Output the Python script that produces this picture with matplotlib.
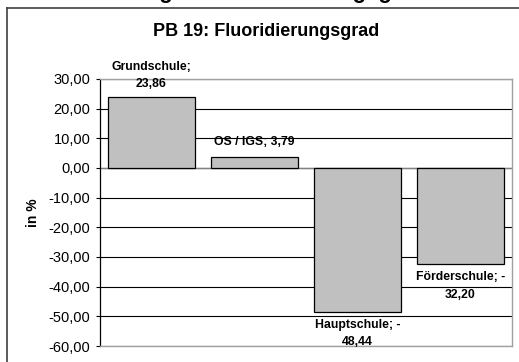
import matplotlib
matplotlib.use("Agg")
import matplotlib.pyplot as plt
from matplotlib.lines import Line2D

plt.rcParams['font.family'] = ['Liberation Sans', 'DejaVu Sans']

categories = ["Grundschule", "OS / IGS", "Hauptschule", "Förderschule"]
values = [23.86, 3.79, -48.44, -32.20]
yticks = [30, 20, 10, 0, -10, -20, -30, -40, -50, -60]

W, H = 519, 362
fig = plt.figure(figsize=(W / 100, H / 100), dpi=100)
fig.patch.set_facecolor("white")

# outer chart frame (left and top edges visible)
fig.add_artist(Line2D([7 / W, 7 / W], [0, 1 - 8 / H], transform=fig.transFigure,
                      color="#404040", lw=1.2))
fig.add_artist(Line2D([7 / W, 1], [1 - 8 / H, 1 - 8 / H], transform=fig.transFigure,
                      color="#404040", lw=1.2))

# page heading above the chart, mostly cut off at the top edge
fig.text(0.47, 1.0 + 2 / H, "Veränderung des Fluoridierungsgrades", ha="center",
         va="baseline", fontsize=16, fontweight="bold")

ax = fig.add_axes([100 / W, 1 - 346 / H, 412 / W, 267 / H])
x = list(range(len(categories)))
ax.bar(x, values, width=0.835, color="#C0C0C0", edgecolor="black", linewidth=0.9, zorder=3)

ax.set_xlim(-0.5, len(categories) - 0.5)
ax.set_ylim(-60, 30)
ax.set_yticks(yticks)
ax.set_yticklabels([f"{t:.2f}".replace(".", ",") for t in yticks], fontsize=10.5)
ax.set_xticks([])
ax.yaxis.grid(True, color="black", lw=0.8, zorder=1)
ax.axhline(0, color="#808080", lw=1.0, zorder=2)
ax.tick_params(axis="y", direction="out", length=3, width=0.8, color="black", pad=4)

for side in ["top", "right", "bottom"]:
    ax.spines[side].set_color("#A0A0A0")
    ax.spines[side].set_linewidth(1.0)
ax.spines["left"].set_color("black")
ax.spines["left"].set_linewidth(0.9)

ax.set_ylabel("in %", fontsize=10, fontweight="bold", labelpad=6)


def fmt(v):
    return f"{abs(v):.2f}".replace(".", ",")


lab_kw = dict(ha="center", va="center", fontsize=8.8, fontweight="bold",
              textcoords="offset points", annotation_clip=False, zorder=5)


def label(i, lines, offsets_pt):
    for line, off in zip(lines, offsets_pt):
        ax.annotate(line, (i, values[i]), xytext=(0, off), **lab_kw)


# data labels: category; value
label(0, [f"{categories[0]};", fmt(values[0])], [21.6, 9.3])
label(1, [f"{categories[1]}; {fmt(values[1])}"], [10.4])
label(2, [f"{categories[2]}; -", fmt(values[2])], [-9.8, -22.0])
label(3, [f"{categories[3]}; -", fmt(values[3])], [-9.9, -22.9])

fig.text(266 / W, 1 - 31 / H, "PB 19: Fluoridierungsgrad", ha="center", va="center",
         fontsize=13, fontweight="bold")

fig.savefig("out.png", dpi=100)
